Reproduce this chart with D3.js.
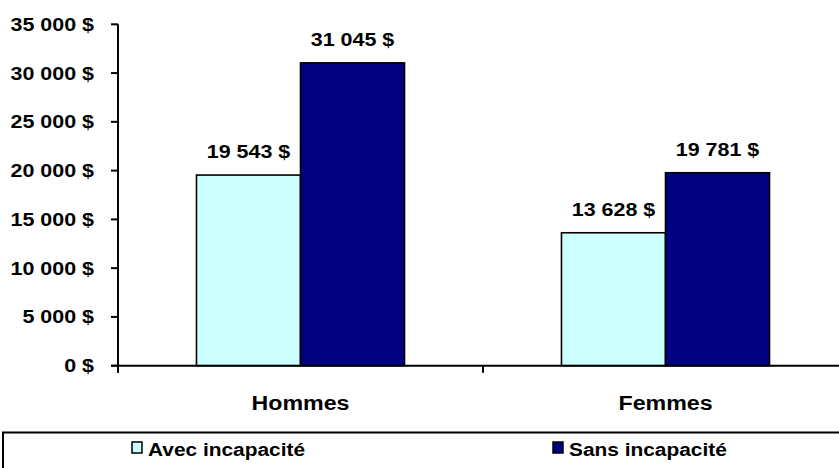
<!DOCTYPE html>
<html>
<head>
<meta charset="utf-8">
<script src="https://cdn.jsdelivr.net/npm/d3@7"></script>
<style>
  html, body { margin: 0; padding: 0; background: #fff; }
  svg { display: block; }
  text { font-family: "Liberation Sans", Arial, sans-serif; font-weight: bold; fill: #000; }
</style>
</head>
<body>
<svg id="chart" width="839" height="468"></svg>
<script>
const categories = ["Hommes", "Femmes"];
const seriesNames = ["Avec incapacité", "Sans incapacité"];
const avecValues = [19543, 13628]; // Avec incapacité
const sansValues = [31045, 19781]; // Sans incapacité
const tickValues = [0, 5000, 10000, 15000, 20000, 25000, 30000, 35000];
const seriesColors = ["#CCFFFF", "#000080"];

(function () {
const fmt = v => d3.format(",")(v).replace(/,/g, " ") + " $";
const SX = 1.16;

const svg = d3.select("#chart");
const W = 839;
const pLeft = 118, pRight = 848, pTop = 24.3, pBottom = 365.7;

const y = d3.scaleLinear().domain([0, 35000]).range([pBottom, pTop]);
const x0 = d3.scaleBand().domain(categories).range([pLeft, pRight])
  .paddingInner(0.43).paddingOuter(0.215);
const x1 = d3.scaleBand().domain(seriesNames).range([0, x0.bandwidth()]);

const data = categories.map((c, i) => ({
  cat: c,
  vals: [{s: seriesNames[0], v: avecValues[i], c: seriesColors[0]},
         {s: seriesNames[1], v: sansValues[i], c: seriesColors[1]}]
}));

function stext(g, x, yy, str, size, anchor) {
  return g.append("text")
    .attr("transform", `translate(${x},${yy}) scale(${SX},1)`)
    .attr("text-anchor", anchor || "middle")
    .style("font-size", size + "px")
    .text(str);
}

// Bars
const groups = svg.append("g").selectAll("g").data(data).join("g")
  .attr("transform", d => `translate(${x0(d.cat)},0)`);
groups.selectAll("rect").data(d => d.vals).join("rect")
  .attr("x", d => x1(d.s))
  .attr("y", d => y(d.v))
  .attr("width", x1.bandwidth())
  .attr("height", d => y(0) - y(d.v))
  .attr("fill", d => d.c)
  .attr("stroke", "#000")
  .attr("stroke-width", 1.6);

// Value labels
groups.each(function(d) {
  const g = d3.select(this);
  d.vals.forEach(v => {
    stext(g, x1(v.s) + x1.bandwidth() / 2, y(v.v) - 17, fmt(v.v), 18.5);
  });
});

// Y axis
const ya = svg.append("g");
ya.append("line").attr("x1", pLeft).attr("x2", pLeft).attr("y1", y(35000)).attr("y2", y(0) + 7)
  .attr("stroke", "#000").attr("stroke-width", 2);
tickValues.forEach(t => {
  ya.append("line").attr("x1", pLeft - 7).attr("x2", pLeft).attr("y1", y(t)).attr("y2", y(t))
    .attr("stroke", "#000").attr("stroke-width", 2);
  stext(ya, 94, y(t) + 6.5, fmt(t), 18.5, "end");
});

// X axis
const xa = svg.append("g");
xa.append("line").attr("x1", pLeft - 7).attr("x2", W).attr("y1", y(0)).attr("y2", y(0))
  .attr("stroke", "#000").attr("stroke-width", 2);
const step = x0.step();
[0, 1, 2].forEach(i => {
  const xx = pLeft + i * step;
  xa.append("line").attr("x1", xx).attr("x2", xx).attr("y1", y(0)).attr("y2", y(0) + 7)
    .attr("stroke", "#000").attr("stroke-width", 2);
});
categories.forEach(c => {
  stext(xa, x0(c) + x0.bandwidth() / 2, 410, c, 20);
});

// Legend
const lg = svg.append("g");
lg.append("rect").attr("x", 3).attr("y", 432.5).attr("width", W + 10).attr("height", 50)
  .attr("fill", "#fff").attr("stroke", "#000").attr("stroke-width", 2);
const legendX = [132, 553];
seriesNames.forEach((s, i) => {
  lg.append("rect").attr("x", legendX[i]).attr("y", 442).attr("width", 10).attr("height", 11)
    .attr("fill", seriesColors[i]).attr("stroke", "#000").attr("stroke-width", 1.5);
  stext(lg, legendX[i] + 16, 456, s, 18, "start");
});
})();
</script>
</body>
</html>
